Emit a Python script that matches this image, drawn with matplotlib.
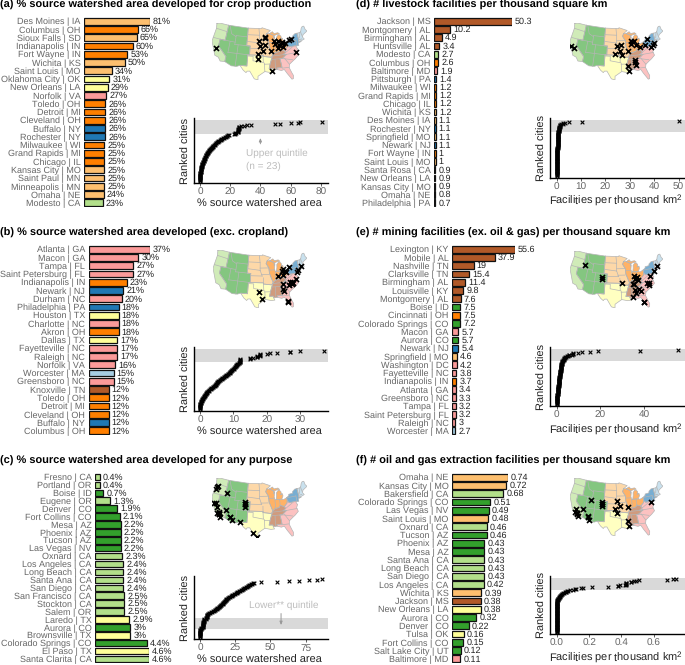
import numpy as np
import matplotlib
matplotlib.use('Agg')
import matplotlib.pyplot as plt

plt.rcParams['font.family'] = ['Liberation Sans', 'DejaVu Sans']
plt.rcParams['mathtext.default'] = 'regular'
plt.rcParams['text.hinting'] = 'no_hinting'
plt.rcParams['text.hinting_factor'] = 1

W, H = 685, 665

# ---- top 23 cities per panel, as printed on the bars
cities_a = ['Des Moines | IA', 'Columbus | OH', 'Sioux Falls | SD', 'Indianapolis | IN', 'Fort Wayne | IN', 'Wichita | KS',
            'Saint Louis | MO', 'Oklahoma City | OK', 'New Orleans | LA', 'Norfolk | VA', 'Toledo | OH', 'Detroit | MI',
            'Cleveland | OH', 'Buffalo | NY', 'Rochester | NY', 'Milwaukee | WI', 'Grand Rapids | MI', 'Chicago | IL',
            'Kansas City | MO', 'Saint Paul | MN', 'Minneapolis | MN', 'Omaha | NE', 'Modesto | CA']
values_a = [81, 66, 65, 60, 53, 50, 34, 31, 29, 27, 26, 26, 26, 26, 26, 25, 25, 25, 25, 25, 25, 24, 23]

cities_b = ['Atlanta | GA', 'Macon | GA', 'Tampa | FL', 'Saint Petersburg | FL', 'Indianapolis | IN', 'Newark | NJ',
            'Durham | NC', 'Philadelphia | PA', 'Houston | TX', 'Charlotte | NC', 'Akron | OH', 'Dallas | TX',
            'Fayetteville | NC', 'Raleigh | NC', 'Norfolk | VA', 'Worcester | MA', 'Greensboro | NC', 'Knoxville | TN',
            'Toledo | OH', 'Detroit | MI', 'Cleveland | OH', 'Buffalo | NY', 'Columbus | OH']
values_b = [37, 30, 27, 27, 23, 21, 20, 18, 18, 18, 18, 17, 17, 17, 16, 15, 15, 12, 12, 12, 12, 12, 12]

cities_c = ['Fresno | CA', 'Portland | OR', 'Boise | ID', 'Eugene | OR', 'Denver | CO', 'Fort Collins | CO', 'Mesa | AZ',
            'Phoenix | AZ', 'Tucson | AZ', 'Las Vegas | NV', 'Oxnard | CA', 'Los Angeles | CA', 'Long Beach | CA',
            'Santa Ana | CA', 'San Diego | CA', 'San Francisco | CA', 'Stockton | CA', 'Salem | OR', 'Laredo | TX',
            'Aurora | CO', 'Brownsville | TX', 'Colorado Springs | CO', 'El Paso | TX', 'Santa Clarita | CA']
values_c = [0.4, 0.4, 0.7, 1.3, 1.9, 2.1, 2.2, 2.2, 2.2, 2.2, 2.3, 2.4, 2.4, 2.4, 2.4, 2.5, 2.5, 2.5, 2.9, 3, 3, 4.4, 4.6, 4.6]

cities_d = ['Jackson | MS', 'Montgomery | AL', 'Birmingham | AL', 'Huntsville | AL', 'Modesto | CA', 'Columbus | OH',
            'Baltimore | MD', 'Pittsburgh | PA', 'Milwaukee | WI', 'Grand Rapids | MI', 'Chicago | IL', 'Wichita | KS',
            'Des Moines | IA', 'Rochester | NY', 'Springfield | MO', 'Newark | NJ', 'Fort Wayne | IN', 'Saint Louis | MO',
            'Santa Rosa | CA', 'New Orleans | LA', 'Kansas City | MO', 'Omaha | NE', 'Philadelphia | PA']
values_d = [50.3, 10.2, 4.9, 3.4, 2.7, 2.6, 1.9, 1.4, 1.2, 1.2, 1.2, 1.2, 1.1, 1.1, 1.1, 1.1, 1, 1, 0.9, 0.9, 0.9, 0.8, 0.7]

cities_e = ['Lexington | KY', 'Mobile | AL', 'Nashville | TN', 'Clarksville | TN', 'Birmingham | AL', 'Louisville | KY',
            'Montgomery | AL', 'Boise | ID', 'Cincinnati | OH', 'Colorado Springs | CO', 'Macon | GA', 'Aurora | CO',
            'Newark | NJ', 'Springfield | MO', 'Washington | DC', 'Fayetteville | NC', 'Indianapolis | IN', 'Atlanta | GA',
            'Greensboro | NC', 'Tampa | FL', 'Saint Petersburg | FL', 'Raleigh | NC', 'Worcester | MA']
values_e = [55.6, 37.9, 19, 15.4, 11.4, 9.8, 7.6, 7.5, 7.5, 7.2, 5.7, 5.7, 5.4, 4.6, 4.2, 3.8, 3.7, 3.4, 3.3, 3.2, 3.2, 3, 2.7]

cities_f = ['Omaha | NE', 'Kansas City | MO', 'Bakersfield | CA', 'Colorado Springs | CO', 'Las Vegas | NV', 'Saint Louis | MO',
            'Oxnard | CA', 'Tucson | AZ', 'Phoenix | AZ', 'Mesa | AZ', 'Santa Ana | CA', 'Long Beach | CA', 'San Diego | CA',
            'Los Angeles | CA', 'Wichita | KS', 'Jackson | MS', 'New Orleans | LA', 'Aurora | CO', 'Denver | CO', 'Tulsa | OK',
            'Fort Collins | CO', 'Salt Lake City | UT', 'Baltimore | MD']
values_f = [0.74, 0.72, 0.68, 0.51, 0.49, 0.48, 0.46, 0.46, 0.43, 0.43, 0.43, 0.43, 0.43, 0.42, 0.39, 0.38, 0.38, 0.32,
            0.22, 0.16, 0.15, 0.12, 0.11]

# ---- rest of the ranked cities (low to high)
rest_a = [0, 0, 0, 0, 0.1, 0.1, 0.1, 0.1, 0.1, 0.2, 0.2, 0.2, 0.2, 0.3, 0.3, 0.3, 0.3, 0.4, 0.4, 0.4, 0.5, 0.5, 0.6, 0.6, 0.7,
          0.8, 0.9, 1.0, 1.1, 1.2, 1.3, 1.4, 1.5, 1.6, 1.8, 1.9, 2.0, 2.1, 2.3, 2.4, 2.6,
          2.8, 2.9, 3.1, 3.2, 3.4, 3.5, 3.7, 3.9, 4.0, 4.2, 4.4, 4.6, 4.8, 5.0, 5.2, 5.4, 5.7, 5.9, 6.2, 6.6,
          6.9, 7.1, 7.4, 7.7, 8.0, 8.3, 8.5, 8.8, 9.2, 9.6, 10.0, 10.4, 10.9, 11.3, 11.7, 12.2, 12.6, 13.1, 13.6, 14.2,
          14.8, 15.4, 16.0, 16.6, 17.1, 17.6, 18.0, 18.4, 18.9, 22.8, 23.0]
rest_b = [0, 0, 0, 0, 0, 0, 0, 0, 0.1, 0.1, 0.1, 0.2, 0.2, 0.3, 0.3,
          0.4, 0.5, 0.5, 0.6, 0.7, 0.8, 0.9, 1.0, 1.1, 1.2, 1.3, 1.4, 1.5, 1.6, 1.7, 1.8, 1.9, 2.0, 2.1, 2.2, 2.4, 2.6,
          2.8, 3.0, 3.2, 3.4, 3.6, 3.8, 4.0, 4.2, 4.4, 4.6, 4.7, 4.8, 4.9, 5.0, 5.1, 5.2, 5.3, 5.5, 5.7,
          5.9, 6.1, 6.3, 6.5, 6.7, 6.9, 7.1, 7.3, 7.5, 7.7, 7.9, 8.1, 8.3, 8.5, 8.7, 8.9,
          9.0, 9.1, 9.2, 9.3, 9.5, 9.7, 9.9, 10.1, 10.2, 10.4, 10.5, 10.7, 10.8, 10.9, 11.0, 11.2, 11.4, 11.6, 11.8, 12.0]
below_c = [0, 0, 0, 0, 0, 0, 0, 0, 0.1, 0.1, 0.1, 0.2, 0.2, 0.3, 0.3]
above_c = [4.7, 4.8, 4.9, 5.0, 5.1, 5.3, 5.5, 5.7, 6.2, 6.8, 7.5, 8.2, 9.0, 9.8,
           10.4, 11, 11.5, 12, 12.4, 12.8, 13.2, 13.6, 14, 14.4, 14.8, 15.2, 15.6, 16, 16.3, 16.6, 16.9, 17.2, 17.5, 17.8,
           18.1, 18.4, 18.8, 19.2, 19.6, 20, 20.6, 21.2, 21.8, 22.4, 23, 23.6, 24.2, 24.8, 25.4, 26, 26.6, 27.2, 27.8, 28.4,
           29, 29.6, 30.2, 30.8, 31.4, 32, 32.6, 33.2, 33.8, 34.4, 35, 35.6, 36.2, 36.8, 37.4, 38,
           43, 54.4, 63, 70.5, 77, 82.8, 86.8]
rest_d = [0, 0, 0, 0, 0, 0, 0, 0, 0, 0, .01, .01, .02, .02, .02, .03, .03, .04, .04, .05,
          .05, .06, .06, .07, .07, .08, .08, .09, .09, .1, .1, .11, .12, .12, .13, .14, .15, .15, .16, .17,
          .18, .19, .2, .2, .21, .22, .23, .24, .25, .26, .27, .28, .29, .3, .31, .32, .33, .34, .35, .36,
          .37, .38, .39, .4, .41, .42, .43, .44, .45, .46, .47, .48, .49, .5, .51, .52, .53, .54, .55, .56,
          .57, .58, .59, .6, .61, .62, .63, .64, .65, .66, .68, .69]
rest_e = [0, 0, 0, 0, .01, .02, .03, .05, .07, .1,
          .12, .15, .18, .2, .22, .25, .28, .3, .33, .36, .38, .4, .42, .45, .48, .5, .52, .55, .58, .6, .62, .65, .68, .7,
          .72, .75, .78, .8, .83, .86, .89, .92, .95, .98,
          1.0, 1.02, 1.04, 1.06, 1.08, 1.1, 1.12, 1.14, 1.16, 1.18, 1.2, 1.23, 1.26, 1.29, 1.32, 1.35, 1.38, 1.41, 1.44,
          1.47, 1.5, 1.54, 1.58, 1.62, 1.66, 1.7, 1.74, 1.78, 1.82, 1.86, 1.9, 1.94, 1.98, 2.0,
          2.03, 2.06, 2.09, 2.12, 2.15, 2.18, 2.2, 2.25, 2.3, 2.35, 2.4, 2.45, 2.5, 2.6]
rest_f = [0.0] * 66 + [.001, .002, .003, .005, .006, .008, .01, .012, .014, .016, .018, .02, .022, .025, .028, .03,
                       .035, .04, .045, .05, .055, .06, .065, .07, .08, .1]

# ---- census divisions: state -> colour, as on the bars and the maps
division_colors = {'pacific': '#b2df8a', 'mountain': '#33a02c', 'wn_central': '#fdbf6f', 'en_central': '#ff7f00',
                   'ws_central': '#ffff99', 'es_central': '#b15928', 's_atlantic': '#fb9a99', 'm_atlantic': '#1f78b4',
                   'new_england': '#a6cee3'}
state_division = {}
for div, states in {'pacific': 'CA OR WA', 'mountain': 'ID NV AZ UT MT WY CO NM', 'wn_central': 'ND SD NE KS MN IA MO',
                    'en_central': 'WI IL IN MI OH', 'ws_central': 'TX OK AR LA', 'es_central': 'KY TN MS AL',
                    's_atlantic': 'FL GA SC NC VA WV MD DE DC', 'm_atlantic': 'NY PA NJ',
                    'new_england': 'MA CT RI VT NH ME'}.items():
    for st in states.split():
        state_division[st] = div

# lon, lat of each city
city_lonlat = {
    'Des Moines': (-93.6, 41.6), 'Columbus': (-83.0, 40.0), 'Sioux Falls': (-96.7, 43.5), 'Indianapolis': (-86.2, 39.8),
    'Fort Wayne': (-85.1, 41.1), 'Wichita': (-97.3, 37.7), 'Saint Louis': (-90.2, 38.6), 'Oklahoma City': (-97.5, 35.5),
    'New Orleans': (-90.1, 30.0), 'Norfolk': (-76.3, 36.9), 'Toledo': (-83.6, 41.7), 'Detroit': (-83.0, 42.3),
    'Cleveland': (-81.7, 41.5), 'Buffalo': (-78.9, 42.9), 'Rochester': (-77.6, 43.2), 'Milwaukee': (-87.9, 43.0),
    'Grand Rapids': (-85.7, 43.0), 'Chicago': (-87.6, 41.9), 'Kansas City': (-94.6, 39.1), 'Saint Paul': (-93.1, 44.9),
    'Minneapolis': (-93.3, 45.0), 'Omaha': (-96.0, 41.3), 'Modesto': (-121.0, 37.6), 'Atlanta': (-84.4, 33.7),
    'Macon': (-83.6, 32.8), 'Tampa': (-82.5, 28.0), 'Saint Petersburg': (-82.7, 27.8), 'Newark': (-74.2, 40.7),
    'Durham': (-78.9, 36.0), 'Philadelphia': (-75.2, 40.0), 'Houston': (-95.4, 29.8), 'Charlotte': (-80.8, 35.2),
    'Akron': (-81.5, 41.1), 'Dallas': (-96.8, 32.8), 'Fayetteville': (-78.9, 35.1), 'Raleigh': (-78.6, 35.8),
    'Worcester': (-71.8, 42.3), 'Greensboro': (-79.8, 36.1), 'Knoxville': (-83.9, 36.0), 'Fresno': (-119.8, 36.7),
    'Portland': (-122.7, 45.5), 'Boise': (-116.2, 43.6), 'Eugene': (-123.1, 44.1), 'Denver': (-105.0, 39.7),
    'Fort Collins': (-105.1, 40.6), 'Mesa': (-111.8, 33.4), 'Phoenix': (-112.1, 33.5), 'Tucson': (-111.0, 32.2),
    'Las Vegas': (-115.1, 36.2), 'Oxnard': (-119.2, 34.2), 'Los Angeles': (-118.2, 34.1), 'Long Beach': (-118.2, 33.8),
    'Santa Ana': (-117.9, 33.7), 'San Diego': (-117.2, 32.7), 'San Francisco': (-122.4, 37.8), 'Stockton': (-121.3, 38.0),
    'Salem': (-123.0, 44.9), 'Laredo': (-99.5, 27.5), 'Aurora': (-104.8, 39.7), 'Brownsville': (-97.5, 25.9),
    'Colorado Springs': (-104.8, 38.8), 'El Paso': (-106.4, 31.8), 'Santa Clarita': (-118.5, 34.4), 'Jackson': (-90.2, 32.3),
    'Montgomery': (-86.3, 32.4), 'Birmingham': (-86.8, 33.5), 'Huntsville': (-86.6, 34.7), 'Baltimore': (-76.6, 39.3),
    'Pittsburgh': (-80.0, 40.4), 'Springfield': (-93.3, 37.2), 'Santa Rosa': (-122.7, 38.4), 'Lexington': (-84.5, 38.0),
    'Mobile': (-88.1, 30.7), 'Nashville': (-86.8, 36.2), 'Clarksville': (-87.4, 36.5), 'Louisville': (-85.8, 38.3),
    'Cincinnati': (-84.5, 39.1), 'Washington': (-77.0, 38.9), 'Bakersfield': (-119.0, 35.4), 'Tulsa': (-96.0, 36.2),
    'Salt Lake City': (-111.9, 40.8),
}

# rough outlines of the divisions, lon/lat
division_shapes = [
    ('pacific', [(-124.7, 48.4), (-123, 49), (-117, 49), (-117, 46), (-117, 42), (-120, 42), (-120, 39), (-114.6, 35), (-114.7, 32.7),
                 (-117.1, 32.5), (-118.5, 34), (-120.6, 34.5), (-122.4, 37.5), (-124.3, 40.3), (-124.2, 43), (-124, 46.3)]),
    ('mountain', [(-117, 49), (-104, 49), (-104, 41), (-102, 41), (-102, 37), (-103, 37), (-103, 32), (-106.6, 32), (-108.2, 31.4),
                  (-111, 31.3), (-114.7, 32.7), (-114.6, 35), (-120, 39), (-120, 42), (-117, 42), (-117, 46)]),
    ('wn_central', [(-104, 49), (-95.2, 49), (-95, 49.4), (-89.6, 48), (-92, 46.7), (-92.8, 45.5), (-91.2, 43.5), (-91, 41), (-89.2, 37),
                    (-89.6, 36.5), (-90.3, 36), (-94.6, 36.5), (-94.6, 37), (-102, 37), (-102, 41), (-104, 41)]),
    ('en_central', [(-92, 46.7), (-90.5, 46.6), (-88, 45.8), (-87.6, 45.1), (-88, 44.5), (-87.3, 45), (-87.8, 43), (-87.5, 41.7), (-86.8, 41.8),
                    (-84.8, 41.7), (-83.5, 41.7), (-82.5, 41.4), (-80.5, 42), (-80.5, 40.6), (-80.8, 39.7), (-82.6, 38.4), (-84.8, 39.1),
                    (-85.5, 38.3), (-87.9, 37.9), (-89.2, 37), (-91, 41), (-91.2, 43.5), (-92.8, 45.5)]),
    ('en_central', [(-86.8, 41.8), (-86.3, 43.5), (-86.2, 44.7), (-85, 45.7), (-84.2, 45.6), (-83.4, 45), (-83.3, 44), (-83.9, 43.7),
                    (-82.6, 44), (-82.5, 43), (-83.4, 41.8), (-84.8, 41.7)]),
    ('en_central', [(-90.4, 46.6), (-88.4, 47.4), (-87.5, 46.5), (-85, 46.7), (-84, 46), (-85.5, 46), (-87, 45.7), (-87.7, 45.2), (-88, 45.8)]),
    ('ws_central', [(-103, 37), (-94.6, 37), (-94.6, 36.5), (-90.3, 36), (-89.7, 36), (-91, 33), (-91.6, 31), (-89.7, 31), (-89.5, 30.2),
                    (-89, 29.2), (-90.8, 29.1), (-93.8, 29.7), (-95, 29), (-97.2, 27.6), (-97.2, 25.9), (-99, 26.4), (-101.4, 29.8),
                    (-102.7, 29.7), (-103.2, 29), (-104.7, 30), (-106.6, 32), (-103, 32)]),
    ('es_central', [(-89.2, 37), (-87.9, 37.9), (-85.5, 38.3), (-84.8, 39.1), (-82.6, 38.4), (-82, 37.5), (-83.7, 36.6), (-81.7, 36.6),
                    (-84.3, 35), (-85.6, 35), (-85.2, 32.9), (-85, 31), (-87.6, 31), (-87.5, 30.3), (-88.4, 30.3), (-89.5, 30.2),
                    (-89.7, 31), (-91.6, 31), (-91, 33), (-89.7, 36), (-89.6, 36.5)]),
    ('s_atlantic', [(-82.6, 38.4), (-80.8, 39.7), (-80.5, 40.6), (-79.5, 39.7), (-75.8, 39.7), (-75.4, 38.5), (-75, 38.4), (-76, 37),
                    (-75.5, 35.3), (-77.5, 34), (-79, 33.2), (-81, 32), (-81.4, 30.5), (-80.5, 28), (-80, 26.8), (-80.3, 25.3), (-81, 25.2),
                    (-81.8, 26.5), (-82.8, 28), (-84, 30), (-85.5, 29.7), (-87.5, 30.3), (-87.6, 31), (-85, 31), (-85.2, 32.9), (-85.6, 35),
                    (-84.3, 35), (-81.7, 36.6), (-83.7, 36.6), (-82, 37.5)]),
    ('m_atlantic', [(-80.5, 42), (-79, 42.8), (-79, 43.3), (-76.5, 43.5), (-76.3, 44.2), (-74.7, 45), (-73.4, 45), (-73.3, 42.7), (-73.5, 41.2),
                    (-72, 41), (-74, 40.6), (-74, 39.5), (-75.5, 39.5), (-75.8, 39.7), (-79.5, 39.7), (-80.5, 40.6)]),
    ('new_england', [(-73.4, 45), (-71.5, 45), (-70.8, 45.4), (-70, 46.7), (-69, 47.4), (-68, 47.3), (-67.8, 45.7), (-67, 44.8), (-70, 43.7),
                     (-70.7, 42.7), (-70, 41.7), (-71.8, 41.3), (-73.5, 41.2), (-73.3, 42.7)]),
]

# state borders inside the divisions
state_lines = [
    [(-124, 46.3), (-117, 46)], [(-124.2, 42), (-120, 42)], [(-120, 42), (-111, 42)], [(-111, 45), (-111, 41)], [(-111, 45), (-104, 45)],
    [(-109, 41), (-109, 31.3)], [(-114, 42), (-114, 37)], [(-114, 37), (-102, 37)], [(-111, 41), (-102, 41)],
    [(-116, 49), (-114, 45.5), (-111, 44.5)],
    [(-104, 46), (-96.5, 46)], [(-104, 43), (-96.5, 42.5)], [(-102, 40), (-95.3, 40)], [(-94.6, 39.2), (-94.6, 36.5)],
    [(-97, 49), (-96.5, 45.5), (-96.5, 42.5)], [(-96.5, 43.5), (-91.2, 43.5)], [(-95.8, 40.6), (-91.5, 40.6)], [(-96.5, 42.5), (-95.3, 40)],
    [(-91, 42.5), (-87.8, 42.5)], [(-87.5, 41.7), (-87.5, 39.3), (-87.9, 37.9)], [(-84.8, 41.7), (-84.8, 39.1)],
    [(-103, 36.5), (-100, 36.5), (-100, 34.5), (-94.5, 33.7)], [(-94.6, 36.5), (-94.5, 33.7)], [(-94, 33.5), (-93.8, 29.7)], [(-94, 33), (-91, 33)],
    [(-89.5, 36.5), (-81.7, 36.6)], [(-90.2, 35), (-84.3, 35)], [(-88.2, 35), (-88.4, 30.3)],
    [(-85, 30.7), (-81.5, 30.7)], [(-83.1, 35), (-81, 32)], [(-84.3, 35), (-79, 33.8)], [(-81.7, 36.6), (-75.9, 36.6)], [(-82, 37.5), (-78, 39.3)],
    [(-79.8, 42), (-75, 42)], [(-75, 42), (-75, 40), (-75.5, 39.5)], [(-71.5, 45), (-72.5, 42.7)], [(-73.5, 42), (-71.4, 42)], [(-71, 45.4), (-70.7, 43)],
]


def albers(lon, lat):
    p1, p2, p0, l0 = np.radians([29.5, 45.5, 37.5, -96.0])
    lam, phi = np.radians(lon), np.radians(lat)
    n = (np.sin(p1) + np.sin(p2)) / 2
    c = np.cos(p1) ** 2 + 2 * n * np.sin(p1)
    rho = np.sqrt(c - 2 * n * np.sin(phi)) / n
    rho0 = np.sqrt(c - 2 * n * np.sin(p0)) / n
    return rho * np.sin(n * (lam - l0)), rho0 - rho * np.cos(n * (lam - l0))


def px_axes(left, top, right, bottom):
    return fig.add_axes([left / W, 1 - bottom / H, (right - left) / W, (bottom - top) / H])


def draw_bars(labels, values, left, right, top, bottom, fmt):
    ax = px_axes(left, top, right, bottom)
    n = len(values)
    y = np.arange(n)
    colors = [division_colors[state_division[c[-2:]]] for c in labels]
    ax.barh(y, values, height=0.82, color=colors, edgecolor='#111111', linewidth=0.9)
    for yi, v in zip(y, values):
        ax.annotate(fmt(v), (v, yi), xytext=(2.2, -0.3), textcoords='offset points', va='center', ha='left',
                    fontsize=6.7, color='#222222', annotation_clip=False)
    ax.set_xlim(0, max(values))
    ax.set_ylim(n - 0.5, -0.5)
    ax.set_yticks(y)
    ax.set_yticklabels(labels, fontsize=6.7, color='#666666')
    ax.tick_params(axis='y', length=0, pad=2.6)
    ax.set_xticks([])
    for s in ax.spines.values():
        s.set_visible(False)
    return ax


def draw_map(labels, left, top, right, bottom):
    ax = px_axes(left, top, right, bottom)
    xs, ys = [], []
    for div, shape in division_shapes:
        lon, lat = np.array(shape).T
        x, y = albers(lon, lat)
        xs.append(x)
        ys.append(y)
        ax.fill(x, y, facecolor=division_colors[div], alpha=0.6, edgecolor='none')
        ax.plot(np.r_[x, x[0]], np.r_[y, y[0]], color='#b5b5b5', lw=0.5)
    for line in state_lines:
        lon, lat = np.array(line).T
        x, y = albers(lon, lat)
        ax.plot(x, y, color='#b5b5b5', lw=0.5)
    pts = np.array([city_lonlat[c.split(' | ')[0]] for c in labels])
    x, y = albers(pts[:, 0], pts[:, 1])
    ax.scatter(x, y, marker='x', s=13, color='black', linewidths=1.2, zorder=5)
    ax.set_xlim(np.concatenate(xs).min(), np.concatenate(xs).max())
    ax.set_ylim(np.concatenate(ys).min(), np.concatenate(ys).max())
    ax.axis('off')


def draw_rank(values, box, xlim, xticks, band, xlabel, tickfmt='%g'):
    ax = px_axes(*box)
    ranks = np.arange(len(values))
    ax.axhspan(band[0], band[1], color='#d9d9d9', lw=0, zorder=0)
    ax.scatter(values, ranks, marker='x', s=7, color='black', linewidths=0.8, zorder=3, clip_on=False)
    ax.set_xlim(*xlim)
    ax.set_ylim(-4, 121)
    ax.set_xticks(xticks)
    ax.set_xticklabels([tickfmt % t for t in xticks], fontsize=7.2, color='#666666')
    ax.set_yticks([])
    ax.tick_params(axis='x', length=2, width=0.6, color='#444444', pad=1.5)
    ax.set_xlabel(xlabel, fontsize=8.0, color='#222222', labelpad=1)
    ax.xaxis.label.set_x(0.49)
    ax.set_ylabel('Ranked cities', fontsize=8.0, color='#222222', labelpad=2)
    for s in ['top', 'right']:
        ax.spines[s].set_visible(False)
    for s in ['left', 'bottom']:
        ax.spines[s].set_linewidth(1.0)
    return ax


pct = lambda v: f'{v:g}%'
plain = lambda v: f'{v:g}'

fig = plt.figure(figsize=(W / 100, H / 100), dpi=100)

titles = [('(a) % source watershed area developed for crop production', 0, 5),
          ('(b) % source watershed area developed (exc. cropland)', 0, 233),
          ('(c) % source watershed area developed for any purpose', 0, 461),
          ('(d) # livestock facilities per thousand square km', 356, 5),
          ('(e) # mining facilities (ex. oil & gas) per thousand square km', 356, 233),
          ('(f) # oil and gas extraction facilities per thousand square km', 356, 461)]
for text, x, y in titles:
    fig.text(x / W, 1 - y / H, text, fontsize=8.0, fontweight='bold', color='black', ha='left', va='center')

# bars
draw_bars(cities_a, values_a, 84, 150, 17, 207, pct)
draw_bars(cities_b, values_b, 88.7, 150, 245, 435, pct)
draw_bars(cities_c, values_c, 95, 149, 473, 663, pct)
draw_bars(cities_d, values_d, 434, 512, 17, 207, plain)
draw_bars(cities_e, values_e, 452, 515, 245, 435, plain)
draw_bars(cities_f, values_f, 452, 507.7, 473, 663, lambda v: f'{v:.2f}')

# maps
draw_map(cities_a, 212, 23, 307, 80)
draw_map(cities_b, 213, 250, 307, 308)
draw_map(cities_c, 212, 478, 307, 537)
draw_map(cities_d, 570, 23, 663, 80)
draw_map(cities_e, 570, 251, 663, 308)
draw_map(cities_f, 570, 478, 663, 536)

# ranked scatter plots
watershed = '% source watershed area'
facilities = 'Facilities per thousand km$^2$'
ax_a = draw_rank(rest_a + values_a[::-1], (194, 118, 328, 183), (-4, 84.8), [0, 20, 40, 60, 80], (91, 117), watershed)
draw_rank(rest_b + values_b[::-1], (194, 347, 328, 411), (-1.8, 38.3), [0, 10, 20, 30], (91, 117), watershed)
ax_c = draw_rank(below_c + values_c + above_c, (194, 576, 328, 639), (-4.25, 90.8), [0, 25, 50, 75], (15, 38), watershed)
draw_rank(rest_d + values_d[::-1], (550.3, 118, 685, 177.7), (-2.6, 52.6), [0, 10, 20, 30, 40, 50], (91, 117), facilities)
draw_rank(rest_e + values_e[::-1], (550.3, 347, 685, 406), (-2.9, 58.6), [0, 20, 40], (91, 117), facilities)
draw_rank(rest_f + values_f[::-1], (550.3, 575.7, 685, 634), (-0.04, 0.794), [0.0, 0.2, 0.4, 0.6], (91, 117), facilities, '%.1f')

note = '#bdbdbd'
ax_a.annotate('', xy=(40, 88), xytext=(40, 66), arrowprops=dict(arrowstyle='-|>,head_width=0.08,head_length=0.2', color='#999999', lw=0.7))
ax_a.text(30.5, 62, 'Upper quintile\n(n = 23)', fontsize=7.2, color=note, va='top', ha='left', linespacing=1.5)
ax_c.annotate('', xy=(57.5, 18), xytext=(57.5, 52), arrowprops=dict(arrowstyle='-|>,head_width=0.08,head_length=0.2', color='#999999', lw=0.7))
ax_c.text(34.5, 53, 'Lower** quintile', fontsize=7.2, color=note, va='bottom', ha='left')

fig.savefig('out.png', dpi=100)
